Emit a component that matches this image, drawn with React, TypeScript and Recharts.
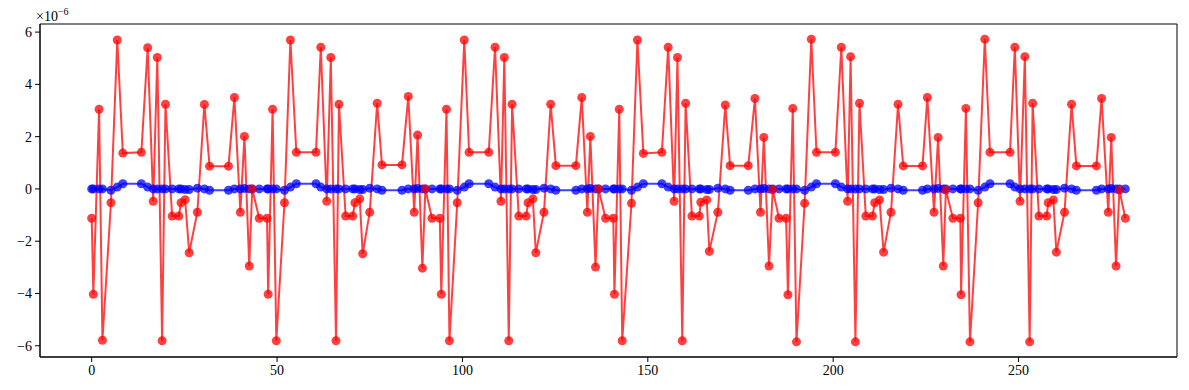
import React from 'react';
import { LineChart, Line, XAxis, YAxis, ReferenceArea } from 'recharts';

// sample positions, shared by both series
const xs = [
  0.0, 0.45, 2.0, 2.9, 5.2, 6.9, 8.4, 13.4, 15.1, 16.6, 17.7, 19.0, 19.9, 21.7, 23.5, 24.1, 25.2, 26.3, 28.5, 30.4, 31.8, 36.9, 38.5, 40.1, 41.2, 42.5, 43.3, 45.2,
  47.3, 47.6, 48.8, 49.8, 52.0, 53.6, 55.2, 60.5, 61.8, 63.4, 64.5, 65.9, 66.7, 68.5, 70.4, 71.0, 72.3, 73.1, 75.0, 77.0, 78.3, 83.7, 85.4, 87.0, 87.9, 89.2, 90.0, 91.8,
  93.9, 94.3, 95.7, 96.5, 98.6, 100.5, 101.8, 107.1, 108.8, 110.4, 111.3, 112.5, 113.4, 115.2, 117.2, 117.7, 119.0, 119.8, 122.0, 123.8, 125.2, 130.6, 132.2, 133.7, 134.5, 135.9, 136.7, 138.6,
  140.7, 141.0, 142.3, 143.1, 145.6, 147.2, 148.8, 153.8, 155.5, 157.1, 158.0, 159.3, 160.2, 161.9, 163.9, 164.3, 165.9, 166.6, 168.9, 170.9, 172.2, 177.1, 178.9, 180.4, 181.3, 182.7, 183.7, 185.4,
  187.3, 187.8, 189.1, 190.1, 192.3, 194.1, 195.5, 200.6, 202.2, 203.9, 204.7, 206.0, 207.1, 208.8, 210.6, 211.2, 212.5, 213.6, 215.6, 217.5, 218.9, 224.1, 225.4, 227.2, 228.3, 229.7, 230.4, 232.3,
  234.3, 234.5, 235.8, 236.9, 239.1, 240.9, 242.3, 247.7, 249.0, 250.4, 251.7, 253.0, 253.8, 255.5, 257.6, 258.0, 259.4, 260.2, 262.4, 264.3, 265.6, 271.0, 272.4, 274.2, 275.0, 276.3, 277.2, 278.8,
];

const redVals = [
  -1.12, -4.03, 3.05, -5.79, -0.53, 5.7, 1.37, 1.4, 5.4, -0.47, 5.03, -5.81, 3.24, -1.04, -1.04, -0.53, -0.41, -2.44, -0.89, 3.23, 0.87, 0.87, 3.5, -0.89, 2.01, -2.95, 0.0, -1.12,
  -1.12, -4.03, 3.05, -5.81, -0.53, 5.7, 1.4, 1.4, 5.42, -0.47, 5.03, -5.81, 3.24, -1.04, -1.04, -0.53, -0.38, -2.48, -0.89, 3.28, 0.92, 0.92, 3.54, -0.89, 2.06, -3.03, 0.0, -1.12,
  -1.12, -4.03, 3.05, -5.81, -0.53, 5.7, 1.4, 1.4, 5.42, -0.47, 5.03, -5.81, 3.24, -1.04, -1.04, -0.53, -0.38, -2.44, -0.89, 3.24, 0.89, 0.89, 3.5, -0.89, 2.01, -2.99, 0.0, -1.12,
  -1.12, -4.03, 3.05, -5.81, -0.55, 5.7, 1.36, 1.4, 5.42, -0.47, 5.03, -5.81, 3.28, -1.04, -1.04, -0.51, -0.42, -2.39, -0.89, 3.21, 0.89, 0.89, 3.46, -0.89, 1.97, -2.95, -0.03, -1.12,
  -1.12, -4.05, 3.08, -5.85, -0.55, 5.73, 1.4, 1.4, 5.42, -0.47, 5.06, -5.85, 3.28, -1.04, -1.04, -0.53, -0.42, -2.42, -0.89, 3.24, 0.88, 0.88, 3.5, -0.89, 1.97, -2.95, -0.04, -1.12,
  -1.12, -4.05, 3.08, -5.85, -0.53, 5.73, 1.4, 1.4, 5.42, -0.47, 5.06, -5.85, 3.28, -1.04, -1.04, -0.53, -0.42, -2.42, -0.89, 3.24, 0.88, 0.88, 3.46, -0.89, 1.97, -2.95, -0.04, -1.12,
];

const blueVals = [
  0.0, 0.0, 0.0, 0.0, -0.05, 0.07, 0.2, 0.2, 0.07, 0.0, 0.0, 0.0, 0.0, 0.0, 0.0, 0.0, -0.02, -0.02, 0.03, 0.0, -0.05, -0.05, 0.0, 0.0, 0.02, 0.0, 0.0, 0.0,
  0.0, 0.0, 0.0, 0.0, -0.05, 0.07, 0.2, 0.2, 0.07, 0.0, 0.0, 0.0, 0.0, 0.0, 0.0, 0.0, -0.02, -0.02, 0.03, 0.0, -0.05, -0.05, 0.0, 0.0, 0.02, 0.0, 0.0, 0.0,
  0.0, 0.0, 0.0, 0.0, -0.05, 0.07, 0.2, 0.2, 0.07, 0.0, 0.0, 0.0, 0.0, 0.0, 0.0, 0.0, -0.02, -0.02, 0.03, 0.0, -0.05, -0.05, 0.0, 0.0, 0.02, 0.0, 0.0, 0.0,
  0.0, 0.0, 0.0, 0.0, -0.05, 0.07, 0.2, 0.2, 0.07, 0.0, 0.0, 0.0, 0.0, 0.0, 0.0, 0.0, -0.02, -0.02, 0.03, 0.0, -0.05, -0.05, 0.0, 0.0, 0.02, 0.0, 0.0, 0.0,
  0.0, 0.0, 0.0, 0.0, -0.05, 0.07, 0.2, 0.2, 0.07, 0.0, 0.0, 0.0, 0.0, 0.0, 0.0, 0.0, -0.02, -0.02, 0.03, 0.0, -0.05, -0.05, 0.0, 0.0, 0.02, 0.0, 0.0, 0.0,
  0.0, 0.0, 0.0, 0.0, -0.05, 0.07, 0.2, 0.2, 0.07, 0.0, 0.0, 0.0, 0.0, 0.0, 0.0, 0.0, -0.02, -0.02, 0.03, 0.0, -0.05, -0.05, 0.0, 0.0, 0.02, 0.0, 0.0, 0.0,
];

const xTicks = [0, 50, 100, 150, 200, 250];
const yTicks = [-6, -4, -2, 0, 2, 4, 6];

const data = xs.map((x, i) => ({ x, red: redVals[i], blue: blueVals[i] }));

const X_DOMAIN: [number, number] = [-13.94, 292.74];
const Y_DOMAIN: [number, number] = [-6.43, 6.31];

const FONT = "'Liberation Serif', 'DejaVu Serif', serif";
const tickStyle = { fill: '#000', fontSize: 14, fontFamily: FONT };
const fmt = (v: number) => String(v).replace('-', '\u2212');

export default function App() {
  return (
    <div style={{ position: 'absolute', left: 0, top: 0, width: 1189, height: 390, background: '#fff' }}>
      <div
        style={{
          position: 'absolute',
          left: 36,
          top: 6,
          fontFamily: FONT,
          fontSize: 14,
          color: '#000',
        }}
      >
        {'\u00d710'}
        <sup style={{ fontSize: 10 }}>{'\u22126'}</sup>
      </div>
      <LineChart width={1189} height={390} data={data} margin={{ top: 24, right: 12, bottom: 0, left: 0 }}>
        <XAxis
          dataKey='x'
          type='number'
          domain={X_DOMAIN}
          ticks={xTicks}
          allowDataOverflow
          height={33}
          tick={tickStyle}
          tickSize={5}
          tickMargin={3}
          stroke='#000'
          tickFormatter={fmt}
        />
        <YAxis
          type='number'
          domain={Y_DOMAIN}
          ticks={yTicks}
          allowDataOverflow
          width={40}
          tick={tickStyle}
          tickSize={5}
          tickMargin={3}
          stroke='#000'
          tickFormatter={fmt}
        />
        {/* axes frame */}
        <ReferenceArea
          x1={X_DOMAIN[0]}
          x2={X_DOMAIN[1]}
          y1={Y_DOMAIN[0]}
          y2={Y_DOMAIN[1]}
          fill='none'
          fillOpacity={0}
          stroke='#000'
          strokeWidth={1}
          ifOverflow='visible'
        />
        <Line
          dataKey='blue'
          stroke='#0000ff'
          strokeOpacity={0.75}
          strokeWidth={2}
          dot={{ r: 4.5, fill: '#0000ff', fillOpacity: 0.75, stroke: 'none' }}
          isAnimationActive={false}
        />
        <Line
          dataKey='red'
          stroke='#ff0000'
          strokeOpacity={0.75}
          strokeWidth={2}
          dot={{ r: 4.5, fill: '#ff0000', fillOpacity: 0.75, stroke: 'none' }}
          isAnimationActive={false}
        />
      </LineChart>
    </div>
  );
}
